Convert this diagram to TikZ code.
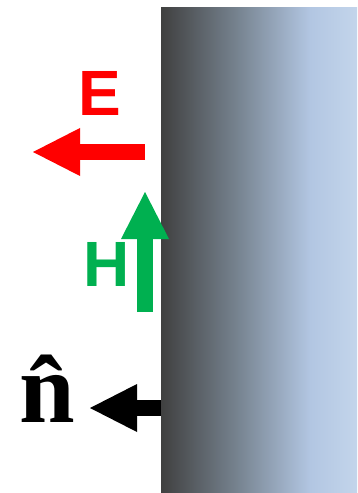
\documentclass[tikz,border=0pt]{standalone}
\usepackage{fontspec}
\setmainfont{Liberation Sans}
\newfontfamily\serifbf{Liberation Serif}
\usetikzlibrary{arrows.meta,positioning}
\definecolor{efield}{HTML}{FF0000}
\definecolor{hfield}{HTML}{00B050}
\definecolor{wallA}{HTML}{404040}
\definecolor{wallB}{HTML}{788592}
\definecolor{wallC}{HTML}{B2C6E2}
\definecolor{wallD}{HTML}{C3D5EB}
\pgfdeclarehorizontalshading{wallshade}{100bp}{color(0bp)=(wallA); color(25bp)=(wallA);
  color(45bp)=(wallB); color(63bp)=(wallC); color(75bp)=(wallD); color(100bp)=(wallD)}
\tikzset{
  wall/.style={shading=wallshade,draw=none,minimum width=196bp,minimum height=485bp,
    inner sep=0pt,outer sep=0pt},
  vec/.style={-{Triangle[length=47bp,width=48bp,line width=0pt]},line width=16bp},
  sym/.style={font=\fontsize{64bp}{64bp}\selectfont\bfseries,inner sep=0pt}
}
\begin{document}
\begin{tikzpicture}[x=1bp,y=-1bp]
  \useasboundingbox (0,0) rectangle (357,493);
  % conducting wall
  \node[wall] (wall) at (259,250.5) {};
  % field vectors
  \coordinate (eS) at (145,152);
  \coordinate (eT) at (33,152);
  \coordinate (hS) at (145,312);
  \coordinate (hT) at (145,192);
  \coordinate (nS) at (wall.west |- 0,408);
  \coordinate (nT) at (90,408);
  \draw[vec,efield] (eS) -- (eT);
  \draw[vec,hfield] (hS) -- (hT);
  \draw[vec,black] (nS) -- (nT);
  % labels
  \node[sym,text=efield] (elbl) at (100,93) {E};
  \node[sym,text=hfield] (hlbl) at (107,264) {H};
  \node[inner sep=0pt,font=\fontsize{100bp}{100bp}\serifbf\bfseries] (nlbl) at (47,388.5) {\^{n}};
\end{tikzpicture}
\end{document}
